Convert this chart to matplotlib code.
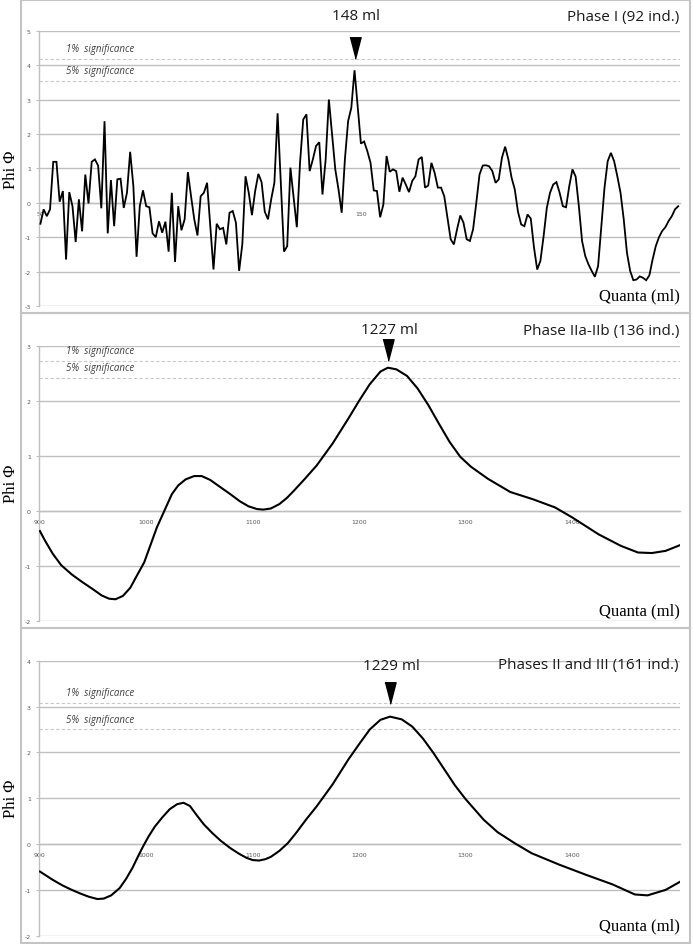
import matplotlib
matplotlib.use("Agg")
import matplotlib.pyplot as plt
import matplotlib.transforms as mtransforms
from matplotlib.patches import Rectangle

# ---------------- data ----------------
p1_start = 50
p1_phi = [
    -0.61, -0.19, -0.39, -0.19, 1.19, 1.19, 0.03, 0.34, -1.65, 0.31,
    -0.10, -1.14, 0.10, -0.83, 0.82, -0.02, 1.19, 1.26, 1.08, -0.16,
    2.37, -0.89, 0.66, -0.68, 0.68, 0.70, -0.15, 0.29, 1.48, 0.48,
    -1.57, -0.10, 0.36, -0.10, -0.13, -0.89, -1.00, -0.54, -0.87, -0.55,
    -1.42, 0.29, -1.72, -0.10, -0.80, -0.48, 0.89, 0.19, -0.48, -0.95,
    0.19, 0.29, 0.58, -0.68, -1.94, -0.61, -0.77, -0.73, -1.21, -0.29,
    -0.24, -0.58, -1.98, -1.20, 0.77, 0.29, -0.36, 0.34, 0.84, 0.60,
    -0.26, -0.48, 0.10, 0.58, 2.60, 0.60, -1.42, -1.26, 1.02, 0.16,
    -0.71, 1.16, 2.42, 2.57, 0.92, 1.26, 1.65, 1.76, 0.24, 1.26,
    3.00, 1.98, 0.97, 0.39, -0.29, 1.26, 2.37, 2.76, 3.85, 2.80,
    1.72, 1.78, 1.50, 1.16, 0.36, 0.34, -0.42, -0.05, 1.36, 0.90,
    0.97, 0.92, 0.32, 0.73, 0.53, 0.31, 0.63, 0.77, 1.26, 1.33,
    0.44, 0.50, 1.16, 0.87, 0.44, 0.44, 0.19, -0.44, -1.06, -1.21,
    -0.77, -0.37, -0.58, -1.06, -1.11, -0.77, 0.00, 0.82, 1.08, 1.09,
    1.06, 0.92, 0.58, 0.68, 1.31, 1.63, 1.26, 0.73, 0.39, -0.26,
    -0.63, -0.68, -0.34, -0.46, -1.30, -1.94, -1.69, -0.97, -0.15, 0.29,
    0.53, 0.60, 0.29, -0.10, -0.13, 0.48, 0.97, 0.76, -0.10, -1.11,
    -1.55, -1.79, -1.98, -2.15, -1.84, -0.68, 0.44, 1.21, 1.45, 1.21,
    0.77, 0.29, -0.48, -1.45, -1.98, -2.25, -2.23, -2.14, -2.18, -2.25,
    -2.11, -1.65, -1.26, -1.00, -0.82, -0.71, -0.53, -0.39, -0.19, -0.10,
]
p1_quanta = list(range(p1_start, p1_start + len(p1_phi)))

p2_quanta = [900, 905, 912, 920, 930, 940, 950, 958, 965, 971, 978, 985, 992,
             998, 1004, 1010, 1017, 1024, 1030, 1037, 1045, 1052, 1060, 1068,
             1079, 1088, 1096, 1104, 1110, 1117, 1125, 1132, 1139, 1149, 1160,
             1175, 1190, 1200, 1210, 1220, 1227, 1235, 1245, 1255, 1265, 1275,
             1285, 1295, 1305, 1321, 1342, 1363, 1384, 1400, 1425, 1446, 1462,
             1475, 1488, 1501]
p2_phi = [-0.37, -0.55, -0.78, -0.99, -1.16, -1.30, -1.43, -1.54, -1.60, -1.61,
          -1.55, -1.40, -1.15, -0.94, -0.62, -0.30, 0.00, 0.30, 0.46, 0.57,
          0.63, 0.63, 0.56, 0.45, 0.30, 0.17, 0.08, 0.03, 0.02, 0.04, 0.12,
          0.23, 0.37, 0.58, 0.82, 1.22, 1.68, 2.00, 2.30, 2.53, 2.60, 2.57,
          2.45, 2.22, 1.92, 1.58, 1.25, 0.98, 0.80, 0.58, 0.34, 0.21, 0.06,
          -0.12, -0.43, -0.64, -0.76, -0.77, -0.73, -0.63]

p3_quanta = [900, 912, 921, 929, 938, 946, 954, 960, 967, 975, 981, 987, 992,
             997, 1002, 1008, 1015, 1022, 1029, 1035, 1041, 1047, 1054, 1062,
             1070, 1079, 1087, 1094, 1100, 1106, 1112, 1117, 1125, 1133, 1141,
             1150, 1160, 1175, 1190, 1200, 1210, 1220, 1229, 1240, 1250, 1260,
             1270, 1280, 1290, 1300, 1317, 1330, 1346, 1362, 1388, 1413, 1438,
             1459, 1471, 1488, 1501]
p3_phi = [-0.60, -0.78, -0.90, -0.99, -1.08, -1.15, -1.20, -1.19, -1.12, -0.96,
          -0.76, -0.52, -0.28, -0.05, 0.16, 0.38, 0.58, 0.76, 0.87, 0.90, 0.83,
          0.64, 0.43, 0.24, 0.07, -0.09, -0.21, -0.30, -0.35, -0.36, -0.33,
          -0.28, -0.15, 0.02, 0.25, 0.53, 0.82, 1.30, 1.85, 2.18, 2.50, 2.71,
          2.78, 2.72, 2.56, 2.30, 1.98, 1.63, 1.28, 0.98, 0.53, 0.26, 0.02,
          -0.20, -0.45, -0.67, -0.88, -1.10, -1.12, -1.00, -0.83]

titles = ["Phase I (92 ind.)", "Phase IIa-IIb (136 ind.)", "Phases II and III (161 ind.)"]
peak_quanta = [148, 1227, 1229]
peak_labels = ["148 ml", "1227 ml", "1229 ml"]
sig1 = [4.19, 2.73, 3.07]
sig5 = [3.55, 2.41, 2.50]
yranges = [(-3, 5), (-2, 3), (-2, 4)]
xranges = [(49.4, 249.4), (898.7, 1501), (898.7, 1501)]
xticks = [[50, 150], [900, 1000, 1100, 1200, 1300, 1400], [900, 1000, 1100, 1200, 1300, 1400]]

# ---------------- layout (pixels) ----------------
W, H = 693, 945
fig = plt.figure(figsize=(W / 100, H / 100), dpi=100)

frames = [(1, 314), (314, 629), (629, 944)]
axes_px = [(31.7, 307.0), (346.7, 621.7), (661.7, 936.7)]
ax_left, ax_right = 38.5, 679.5
title_y = [17, 331, 666]

grid_c = "#bfbfbf"
frame_c = "#c4c4c4"
tick_c = "#595959"

series = [(p1_quanta, p1_phi), (p2_quanta, p2_phi), (p3_quanta, p3_phi)]

for i in range(3):
    ft, fb = frames[i]
    fig.patches.append(Rectangle((20.5 / W, 1 - fb / H), (690 - 20.5) / W, (fb - ft) / H,
                                 transform=fig.transFigure, fill=False,
                                 edgecolor=frame_c, linewidth=1.5, zorder=0))
    at, ab = axes_px[i]
    ax = fig.add_axes([ax_left / W, 1 - ab / H, (ax_right - ax_left) / W, (ab - at) / H])
    ax.set_facecolor("none")
    y0, y1 = yranges[i]
    ax.set_ylim(y0, y1)
    ax.set_xlim(*xranges[i])
    ax.set_yticks(range(y0, y1 + 1))
    ax.set_yticklabels([str(v) for v in range(y0, y1 + 1)])
    ax.yaxis.grid(True, color=grid_c, linewidth=1.0)
    ax.set_axisbelow(True)
    for s in ["top", "right"]:
        ax.spines[s].set_visible(False)
    ax.spines["left"].set_color(grid_c)
    ax.spines["left"].set_linewidth(1.0)
    ax.spines["bottom"].set_position(("data", 0))
    ax.spines["bottom"].set_color(grid_c)
    ax.spines["bottom"].set_linewidth(1.0)
    ax.set_xticks(xticks[i])
    ax.set_xticklabels([str(t) for t in xticks[i]])
    ax.tick_params(axis="x", length=0, pad=6, labelsize=4.5, labelcolor=tick_c)
    ax.tick_params(axis="y", length=2.5, width=0.8, color=grid_c, pad=3,
                   labelsize=4.5, labelcolor=tick_c)

    for val, lab in [(sig1[i], "1%  significance"), (sig5[i], "5%  significance")]:
        ax.axhline(val, color="#c8c8c8", linewidth=0.8, linestyle=(0, (3, 2)))
        ax.annotate(lab, xy=(66.5, val), xycoords=("figure pixels", "data"),
                    xytext=(0, 3.5), textcoords="offset points",
                    ha="left", va="bottom", fontsize=7, style="italic",
                    family=["Open Sans", "DejaVu Sans"], color="#404040")
    xs, ys = series[i]
    ax.plot(xs, ys, color="black", linewidth=1.3 if i == 0 else 1.5, zorder=3,
            solid_joinstyle="miter" if i == 0 else "round")

    tri = [(-0.52, 1.0), (0.52, 1.0), (0.0, -1.0)]
    off = mtransforms.offset_copy(ax.transData, fig=fig, x=0, y=7.6, units="points")
    ax.plot([peak_quanta[i]], [sig1[i]], marker=tri, markersize=15.5, color="black",
            transform=off, clip_on=False, zorder=4)

    fig.text(ax.transData.transform((peak_quanta[i], 0))[0] / W + 1.5 / W,
             1 - title_y[i] / H, peak_labels[i], ha="center", va="center",
             fontsize=11, family=["Open Sans", "DejaVu Sans"], color="#1a1a1a")
    fig.text(679 / W, 1 - title_y[i] / H, titles[i], ha="right", va="center",
             fontsize=11, family=["Open Sans", "DejaVu Sans"], color="#1a1a1a")
    fig.text(680 / W, 1 - (fb - 18) / H, "Quanta (ml)", ha="right", va="center",
             fontsize=12, family=["Liberation Serif", "DejaVu Serif"], color="black")
    fig.text(11 / W, 1 - ((at + ab) / 2) / H, "Phi \u03a6", ha="center", va="center",
             rotation=90, fontsize=12, family=["Liberation Serif", "DejaVu Serif"],
             color="black")

fig.savefig("out.png", dpi=100, facecolor="white")
